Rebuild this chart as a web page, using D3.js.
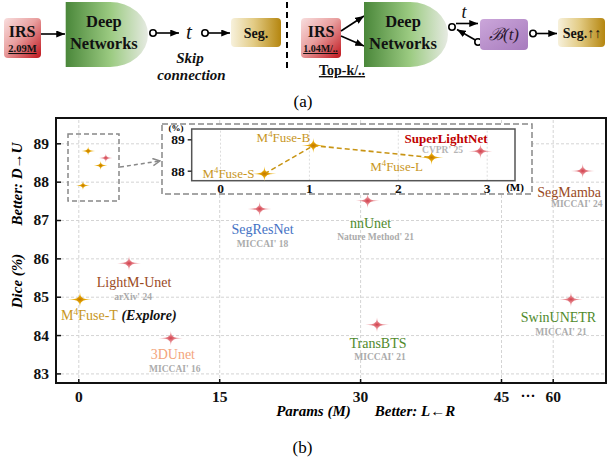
<!DOCTYPE html>
<html>
<head>
<meta charset="utf-8">
<script src="https://cdn.jsdelivr.net/npm/d3@7"></script>
<style>
body { margin: 0; background: #fff; }
svg text { font-family: "Liberation Serif", "Times New Roman", serif; }
</style>
</head>
<body>
<div id="chart"></div>
<script>
// data
var oursNames = ["M4Fuse-T", "M4Fuse-S", "M4Fuse-B", "M4Fuse-L"];
var oursParams = [0.18, 0.5, 1.05, 2.38];
var oursDice = [84.93, 87.9, 88.8, 88.42];

var otherNames = ["SuperLightNet", "LightM-Unet", "3DUnet", "SegResNet", "nnUnet", "TransBTS", "SwinUNETR", "SegMamba"];
var otherParams = [2.93, 5.4, 9.85, 19.3, 30.8, 31.8, 65.3, 68.7];
var otherDice = [88.62, 85.87, 83.92, 87.29, 87.5, 84.27, 84.93, 88.28];
var otherVenues = ["CVPR' 25", "arXiv' 24", "MICCAI' 16", "MICCAI' 18", "Nature Method' 21", "MICCAI' 21", "MICCAI' 21", "MICCAI' 24"];

var diceTicks = [83, 84, 85, 86, 87, 88, 89];
var paramTicks = [0, 15, 30, 45, 60];
var insetDiceTicks = [88, 89];
var insetParamTicks = [0, 1, 2, 3];

// colours / label placement (style, not data)
var labelColor = {
  "SuperLightNet": "#c00000", "LightM-Unet": "#9a4a1e", "3DUnet": "#f3a47c",
  "SegResNet": "#4472c4", "nnUnet": "#4f8a2c", "TransBTS": "#4f8a2c",
  "SwinUNETR": "#4f8a2c", "SegMamba": "#9a4a1e"
};
var labelPos = {   // dx, dy of name; dx, dy of venue
  "LightM-Unet": [5, 24, 4, 37],
  "3DUnet": [2, 21, 4, 34],
  "SegResNet": [3, 25, 3, 38],
  "nnUnet": [3, 27, 8, 39],
  "TransBTS": [1, 23, 3, 35],
  "SwinUNETR": [-12.5, 23, -10, 35.5],
  "SegMamba": [-13.5, 26, -6, 36.5]
};
var goldText = "#c8961e";

var width = 607, height = 461;
var svg = d3.select("#chart").append("svg")
  .attr("width", width).attr("height", height);
var defs = svg.append("defs");

function linGrad(id, x2, y2, stops) {
  var g = defs.append("linearGradient").attr("id", id)
    .attr("x1", 0).attr("y1", 0).attr("x2", x2).attr("y2", y2);
  stops.forEach(function(s) {
    g.append("stop").attr("offset", s[0]).attr("stop-color", s[1]);
  });
}
function radGrad(id, stops) {
  var g = defs.append("radialGradient").attr("id", id);
  stops.forEach(function(s) {
    g.append("stop").attr("offset", s[0]).attr("stop-color", s[1]);
  });
}
linGrad("gIRS", 1, 1, [[0, "#f8dede"], [0.45, "#e9a0a0"], [1, "#c0141c"]]);
linGrad("gNet", 1, 0, [[0, "#4a873a"], [0.55, "#9ccb82"], [1, "#e6eae2"]]);
linGrad("gSeg", 1, 0, [[0, "#f7f1dc"], [0.45, "#e3cc86"], [1, "#b5860f"]]);
linGrad("gB", 1, 1, [[0, "#cba6da"], [1, "#a77bbd"]]);
radGrad("starPink", [[0, "#d23f4c"], [0.3, "#e27880"], [1, "#f7cdd0"]]);
radGrad("starGold", [[0, "#c27600"], [0.35, "#e3a200"], [1, "#f7d766"]]);

defs.append("marker").attr("id", "arr")
  .attr("viewBox", "0 0 10 8").attr("refX", 10).attr("refY", 4)
  .attr("markerWidth", 9).attr("markerHeight", 7).attr("markerUnits", "userSpaceOnUse")
  .attr("orient", "auto")
  .append("path").attr("d", "M0,0L10,4L0,8Z").attr("fill", "#000");
defs.append("marker").attr("id", "openArr")
  .attr("viewBox", "0 0 10 10").attr("refX", 9).attr("refY", 5)
  .attr("markerWidth", 9).attr("markerHeight", 9).attr("markerUnits", "userSpaceOnUse")
  .attr("orient", "auto")
  .append("path").attr("d", "M1,1L9,5L1,9").attr("fill", "none")
  .attr("stroke", "#888").attr("stroke-width", 1.5);

// ---------------- (a) schematic ----------------
var diag = svg.append("g");

function box(x, y, w, h, fill) {
  diag.append("rect").attr("x", x).attr("y", y).attr("width", w).attr("height", h)
    .attr("rx", 4).attr("fill", fill);
}
function txt(x, y, s, size, opts) {
  opts = opts || {};
  return diag.append("text").attr("x", x).attr("y", y).text(s)
    .attr("text-anchor", "middle").attr("font-size", size)
    .attr("font-weight", opts.normal ? "normal" : "bold")
    .attr("font-style", opts.italic ? "italic" : "normal")
    .attr("text-decoration", opts.under ? "underline" : null)
    .attr("fill", opts.fill || "#111");
}
function arrow(x1, y1, x2, y2) {
  diag.append("line").attr("x1", x1).attr("y1", y1).attr("x2", x2).attr("y2", y2)
    .attr("stroke", "#000").attr("stroke-width", 1.6).attr("marker-end", "url(#arr)");
}
function ring(cx, cy) {
  diag.append("circle").attr("cx", cx).attr("cy", cy).attr("r", 3.2)
    .attr("fill", "#fff").attr("stroke", "#000").attr("stroke-width", 1.6);
}
function network(x0, x1) {
  var y0 = 2, y1 = 67, rx = 38, xm = x1 - rx;
  diag.append("path")
    .attr("d", "M" + x0 + "," + y0 + "H" + xm + "A" + rx + "," + ((y1 - y0) / 2) + " 0 0 1 " + xm + "," + y1 + "H" + x0 + "Z")
    .attr("fill", "url(#gNet)");
  var cx = (x0 + x1) / 2 - 3;
  txt(cx, 27, "Deep", 16.5);
  txt(cx, 49, "Networks", 16.5);
}

box(4, 18, 37, 40, "url(#gIRS)");
txt(22, 37, "IRS", 16);
txt(22.5, 52, "2.09M", 10.5, {under: true});
arrow(41, 34, 65, 34);
network(65.7, 148);
ring(153, 33);
arrow(156, 33, 179, 33);
txt(189, 39, "t", 21, {italic: true, normal: true});
ring(205, 33);
arrow(208, 33, 230, 33);
box(231, 18, 50, 29, "url(#gSeg)");
txt(256, 38, "Seg.", 14);
txt(190, 63, "Skip", 15, {italic: true});
txt(191.5, 80, "connection", 15, {italic: true});
diag.append("line").attr("x1", 287).attr("x2", 287).attr("y1", 2).attr("y2", 69)
  .attr("stroke", "#000").attr("stroke-width", 2).attr("stroke-dasharray", "6,4");

box(301, 18, 40, 40, "url(#gIRS)");
txt(321, 37, "IRS", 16);
txt(320.5, 52, "1.04M/..", 10, {under: true});
arrow(341, 31, 364, 16);
arrow(341, 36, 364, 46);
network(364, 448);
txt(342, 75, "Top-k/..", 14, {under: true});
ring(452, 27);
arrow(456, 23.5, 478, 23.5);
txt(464, 18, "t", 18, {italic: true, normal: true});
arrow(477, 41, 457, 29.5);
ring(478, 42);
box(480, 19, 48, 31, "url(#gB)");
txt(504, 40, "\u212C(t)", 17, {italic: true, normal: true, fill: "#2a1830"});
ring(533, 33.5);
arrow(536, 33.5, 557, 33.5);
box(558, 18, 47, 29, "url(#gSeg)");
txt(582, 38, "Seg.\u2191\u2191", 14);

svg.append("text").attr("x", 303).attr("y", 107).attr("text-anchor", "middle")
  .attr("font-size", 17).text("(a)");
svg.append("text").attr("x", 302.5).attr("y", 453).attr("text-anchor", "middle")
  .attr("font-size", 17).text("(b)");

// ---------------- (b) scatter ----------------
var plot = {left: 56, right: 606, top: 118, bottom: 383};

var x = d3.scaleLinear().domain([0, 45, 60]).range([78.3, 501, 552.7]);
var y = d3.scaleLinear().domain([82.75, 89.66]).range([plot.bottom, plot.top]);
var intFmt = d3.format("d");

var chart = svg.append("g");

// grid
chart.append("g").attr("transform", "translate(" + plot.left + ",0)")
  .call(d3.axisLeft(y).tickValues(diceTicks).tickSize(-(plot.right - plot.left)).tickFormat(""))
  .call(function(g) {
    g.select(".domain").remove();
    g.selectAll("line").attr("stroke", "#d4d4d4").attr("stroke-dasharray", "3,2");
  });
chart.append("g").attr("transform", "translate(0," + plot.bottom + ")")
  .call(d3.axisBottom(x).tickValues(paramTicks).tickSize(-(plot.bottom - plot.top)).tickFormat(""))
  .call(function(g) {
    g.select(".domain").remove();
    g.selectAll("line").attr("stroke", "#d4d4d4").attr("stroke-dasharray", "3,2");
  });

// axes
chart.append("g").attr("transform", "translate(" + plot.left + ",0)")
  .call(d3.axisLeft(y).tickValues(diceTicks).tickFormat(intFmt).tickSize(-5).tickPadding(7))
  .call(function(g) {
    g.select(".domain").remove();
    g.selectAll("line").attr("stroke", "#111").attr("stroke-width", 1.5);
    g.selectAll("text").attr("font-size", 15.5).attr("font-weight", "bold")
      .attr("fill", "#111").attr("font-family", "Liberation Serif");
  });
chart.append("g").attr("transform", "translate(0," + plot.bottom + ")")
  .call(d3.axisBottom(x).tickValues(paramTicks).tickFormat(intFmt).tickSize(-4).tickPadding(8))
  .call(function(g) {
    g.select(".domain").remove();
    g.selectAll("line").attr("stroke", "#111").attr("stroke-width", 1.5);
    g.selectAll("text").attr("font-size", 15.5).attr("font-weight", "bold")
      .attr("fill", "#111").attr("font-family", "Liberation Serif");
  });
chart.append("text").attr("x", 528).attr("y", 401).attr("text-anchor", "middle")
  .attr("font-size", 15).attr("font-weight", "bold").text("\u00B7\u00B7\u00B7");

chart.append("rect").attr("x", plot.left).attr("y", plot.top)
  .attr("width", plot.right - plot.left).attr("height", plot.bottom - plot.top)
  .attr("fill", "none").attr("stroke", "#111").attr("stroke-width", 2);

// axis titles
chart.append("text").attr("transform", "translate(22,281) rotate(-90)")
  .attr("text-anchor", "middle").attr("font-size", 15).attr("font-weight", "bold")
  .attr("font-style", "italic").text("Dice (%)");
chart.append("text").attr("transform", "translate(22,184) rotate(-90)")
  .attr("text-anchor", "middle").attr("font-size", 15).attr("font-weight", "bold")
  .attr("font-style", "italic").text("Better: D\u2192U");
chart.append("text").attr("x", 313.5).attr("y", 416)
  .attr("text-anchor", "middle").attr("font-size", 15).attr("font-weight", "bold")
  .attr("font-style", "italic").text("Params (M)");
chart.append("text").attr("x", 415).attr("y", 416)
  .attr("text-anchor", "middle").attr("font-size", 15).attr("font-weight", "bold")
  .attr("font-style", "italic").text("Better: L\u2190R");

// four-pointed sparkle star as a custom d3 symbol
function sparkle(a, b) {
  var t = 0.7;
  return {
    draw: function(c) {
      c.moveTo(a, 0);
      c.bezierCurveTo(a * 0.12, t, t, b * 0.12, 0, b);
      c.bezierCurveTo(-t, b * 0.12, -a * 0.12, t, -a, 0);
      c.bezierCurveTo(-a * 0.12, -t, -t, -b * 0.12, 0, -b);
      c.bezierCurveTo(t, -b * 0.12, a * 0.12, -t, a, 0);
      c.closePath();
    }
  };
}
var bigStar = d3.symbol().type(sparkle(12, 7.5))();
var smallStar = d3.symbol().type(sparkle(7, 4.5))();

var ours = oursNames.map(function(n, i) { return {name: n, p: oursParams[i], d: oursDice[i], ours: true}; });
var others = otherNames.map(function(n, i) { return {name: n, p: otherParams[i], d: otherDice[i], venue: otherVenues[i], ours: false}; });
var all = ours.concat(others);
function inZoom(d) { return d.p <= 3.3 && d.d >= 87.6; }

// zoom window marker and arrow
chart.append("rect").attr("x", 68).attr("y", 134).attr("width", 51).attr("height", 67)
  .attr("fill", "none").attr("stroke", "#888").attr("stroke-width", 1.5)
  .attr("stroke-dasharray", "5,3");
chart.append("line").attr("x1", 120).attr("y1", 167).attr("x2", 160).attr("y2", 161)
  .attr("stroke", "#888").attr("stroke-width", 1.5).attr("stroke-dasharray", "4,3")
  .attr("marker-end", "url(#openArr)");

// soft glow behind each star, then the star
function starMarks(g, data, sx, sy, shape, cls) {
  g.selectAll("circle." + cls).data(data).enter().append("circle")
    .attr("class", cls)
    .attr("cx", function(d) { return sx(d.p); }).attr("cy", function(d) { return sy(d.d); })
    .attr("r", shape === smallStar ? 2 : 3)
    .attr("fill", function(d) { return d.ours ? "#e5a400" : "#e07a82"; })
    .attr("opacity", 0.6);
  g.selectAll("path." + cls).data(data).enter().append("path")
    .attr("class", cls)
    .attr("d", shape)
    .attr("transform", function(d) { return "translate(" + sx(d.p) + "," + sy(d.d) + ")"; })
    .attr("fill", function(d) { return d.ours ? "url(#starGold)" : "url(#starPink)"; });
}
starMarks(chart, all.filter(inZoom), x, y, smallStar, "mini");
starMarks(chart, all.filter(function(d) { return !inZoom(d); }), x, y, bigStar, "main");

// labels in main plot
function mLabel(sel, name, size) {
  sel.append("tspan").text("M");
  sel.append("tspan").attr("dy", -5).attr("font-size", size * 0.68).text("4");
  sel.append("tspan").attr("dy", 5).text(name.replace("M4", ""));
}
var tLab = chart.append("text").attr("x", x(oursParams[0]) - 19).attr("y", y(oursDice[0]) + 20.5)
  .attr("font-size", 14).attr("fill", goldText);
mLabel(tLab, oursNames[0], 14);
tLab.append("tspan").attr("fill", "#111").attr("font-weight", "bold")
  .attr("font-style", "italic").text(" (Explore)");

others.filter(function(d) { return labelPos[d.name]; }).forEach(function(d) {
  var lp = labelPos[d.name];
  chart.append("text").attr("x", x(d.p) + lp[0]).attr("y", y(d.d) + lp[1])
    .attr("text-anchor", "middle").attr("font-size", 14)
    .attr("fill", labelColor[d.name]).text(d.name);
  chart.append("text").attr("x", x(d.p) + lp[2]).attr("y", y(d.d) + lp[3])
    .attr("text-anchor", "middle").attr("font-size", 9.5).attr("font-weight", "bold")
    .attr("fill", "#ababab").text(d.venue);
});

// ---------------- inset ----------------
var inset = {left: 191.7, right: 515, top: 129, bottom: 180.7};
var ix = d3.scaleLinear().domain([0, 3]).range([220, 486.7]);
var iy = d3.scaleLinear().domain([88, 89]).range([170.7, 139.3]);

var ins = chart.append("g");
ins.append("rect").attr("x", 162).attr("y", 124).attr("width", 370).attr("height", 70)
  .attr("fill", "#fff").attr("stroke", "#888").attr("stroke-width", 1.5)
  .attr("stroke-dasharray", "6,3");
ins.append("g").attr("transform", "translate(0," + inset.bottom + ")")
  .call(d3.axisBottom(ix).tickValues(insetParamTicks).tickSize(-(inset.bottom - inset.top)).tickFormat(""))
  .call(function(g) {
    g.select(".domain").remove();
    g.selectAll("line").attr("stroke", "#dcdcdc").attr("stroke-dasharray", "2,2");
  });
ins.append("rect").attr("x", inset.left).attr("y", inset.top)
  .attr("width", inset.right - inset.left).attr("height", inset.bottom - inset.top)
  .attr("fill", "none").attr("stroke", "#555").attr("stroke-width", 1.5);
ins.append("g").attr("transform", "translate(" + inset.left + ",0)")
  .call(d3.axisLeft(iy).tickValues(insetDiceTicks).tickFormat(intFmt).tickSize(4).tickPadding(3))
  .call(function(g) {
    g.select(".domain").remove();
    g.selectAll("line").attr("stroke", "#333").attr("stroke-width", 1.5);
    g.selectAll("text").attr("font-size", 13.5).attr("font-weight", "bold")
      .attr("fill", "#111").attr("font-family", "Liberation Serif");
  });
ins.append("g").attr("transform", "translate(0," + inset.bottom + ")")
  .call(d3.axisBottom(ix).tickValues(insetParamTicks).tickFormat(intFmt).tickSize(0).tickPadding(3))
  .call(function(g) {
    g.select(".domain").remove();
    g.selectAll("text").attr("font-size", 13.5).attr("font-weight", "bold")
      .attr("fill", "#111").attr("font-family", "Liberation Serif");
  });
ins.append("text").attr("x", 176).attr("y", 131).attr("text-anchor", "middle")
  .attr("font-size", 9).attr("font-weight", "bold").text("(%)");
ins.append("text").attr("x", 515).attr("y", 191).attr("text-anchor", "middle")
  .attr("font-size", 11).attr("font-weight", "bold").text("(M)");

var trend = ours.filter(inZoom);
ins.append("path").datum(trend)
  .attr("d", d3.line().x(function(d) { return ix(d.p); }).y(function(d) { return iy(d.d); }))
  .attr("fill", "none").attr("stroke", "#c89414").attr("stroke-width", 1.6)
  .attr("stroke-dasharray", "5,3");

starMarks(ins, all.filter(inZoom), ix, iy, bigStar, "inStar");

var insetLab = {"M4Fuse-S": [-36, 4.5], "M4Fuse-B": [-30, -3.5], "M4Fuse-L": [-35, 13]};
trend.forEach(function(d) {
  var t = ins.append("text").attr("x", ix(d.p) + insetLab[d.name][0])
    .attr("y", iy(d.d) + insetLab[d.name][1])
    .attr("text-anchor", "middle").attr("font-size", 13).attr("fill", goldText);
  mLabel(t, d.name, 13);
});
var sl = others[0];
ins.append("text").attr("x", ix(sl.p) - 34.5).attr("y", iy(sl.d) - 8.5)
  .attr("text-anchor", "middle").attr("font-size", 13).attr("font-weight", "bold")
  .attr("fill", labelColor[sl.name]).text(sl.name);
ins.append("text").attr("x", ix(sl.p) - 38).attr("y", iy(sl.d) + 2)
  .attr("text-anchor", "middle").attr("font-size", 9.5).attr("font-weight", "bold")
  .attr("fill", "#b5b5b5").text(sl.venue);
</script>
</body>
</html>
